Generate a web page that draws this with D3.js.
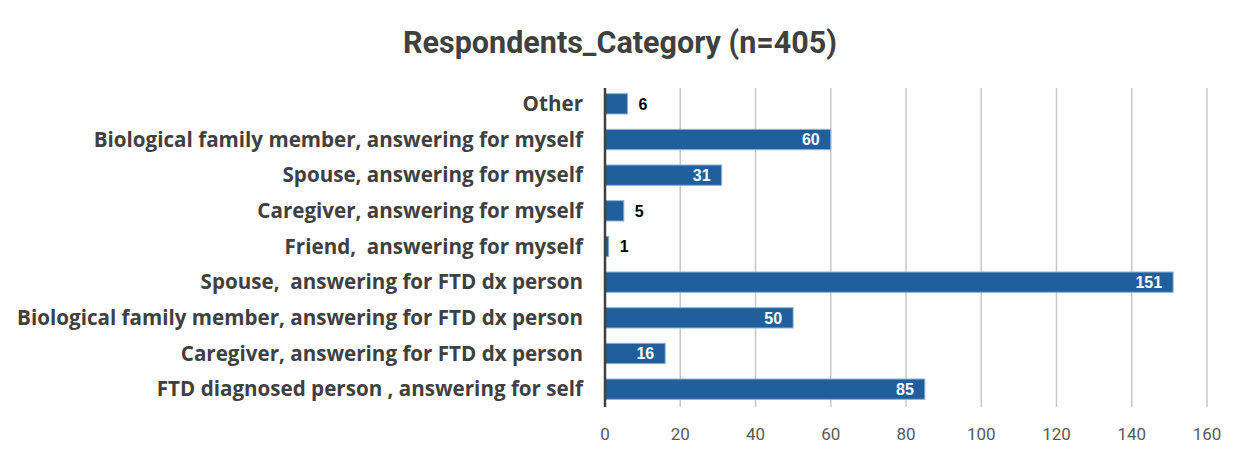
<!DOCTYPE html>
<html>
<head>
<meta charset="utf-8">
<script src="https://cdn.jsdelivr.net/npm/d3@7"></script>
<style>
  body { margin: 0; background: #fff; }
</style>
</head>
<body>
<div id="chart"></div>
<script>
const FRAME_WIDTH = 1243;
const FRAME_HEIGHT = 455;
const MARGINS = {left: 605, right: 36, top: 86, bottom: 48};

// categories top to bottom, as shown
const categories = [
    "Other",
    "Biological family member, answering for myself",
    "Spouse, answering for myself",
    "Caregiver, answering for myself",
    "Friend,  answering for myself",
    "Spouse,  answering for FTD dx person",
    "Biological family member, answering for FTD dx person",
    "Caregiver, answering for FTD dx person",
    "FTD diagnosed person , answering for self"
];
const counts = [6, 60, 31, 5, 1, 151, 50, 16, 85];
const ticks = [0, 20, 40, 60, 80, 100, 120, 140, 160];
const title = "Respondents_Category (n=405)";

const svg = d3.select("#chart")
    .append("svg")
    .attr("width", FRAME_WIDTH)
    .attr("height", FRAME_HEIGHT);

const x = d3.scaleLinear()
    .domain([0, 160])
    .range([MARGINS.left, FRAME_WIDTH - MARGINS.right]);

const y = d3.scaleBand()
    .domain(categories)
    .range([MARGINS.top, FRAME_HEIGHT - MARGINS.bottom])
    .paddingInner(0.43)
    .paddingOuter(0.215);

// title
svg.append("text")
    .attr("x", 620)
    .attr("y", 53)
    .attr("text-anchor", "middle")
    .style("font-family", "'Liberation Sans Narrow', 'Roboto', sans-serif")
    .style("font-weight", "bold")
    .style("font-size", "30.5px")
    .style("fill", "#404040")
    .text(title);

// gridlines
svg.append("g")
    .selectAll("line")
    .data(ticks.slice(1))
    .enter()
    .append("line")
    .attr("x1", d => x(d))
    .attr("x2", d => x(d))
    .attr("y1", MARGINS.top + 2)
    .attr("y2", FRAME_HEIGHT - MARGINS.bottom)
    .style("stroke", "#c8c8c8")
    .style("stroke-width", 1.5);

// tick labels
svg.append("g")
    .selectAll("text")
    .data(ticks)
    .enter()
    .append("text")
    .attr("x", d => x(d))
    .attr("y", 440)
    .attr("text-anchor", "middle")
    .style("font-family", "'Liberation Sans Narrow', 'Roboto', sans-serif")
    .style("font-size", "17px")
    .style("fill", "#595959")
    .text(d => d);

// bars
svg.append("g")
    .selectAll("rect")
    .data(counts)
    .enter()
    .append("rect")
    .attr("x", x(0))
    .attr("y", (d, i) => y(categories[i]))
    .attr("width", d => x(d) - x(0))
    .attr("height", y.bandwidth())
    .style("fill", "#205f9b")
    .style("stroke", "#8fb2d4")
    .style("stroke-width", 1);

// axis line
svg.append("line")
    .attr("x1", x(0))
    .attr("x2", x(0))
    .attr("y1", MARGINS.top + 2)
    .attr("y2", FRAME_HEIGHT - MARGINS.bottom)
    .style("stroke", "#404040")
    .style("stroke-width", 2.5);

// category labels
svg.append("g")
    .selectAll("text")
    .data(categories)
    .enter()
    .append("text")
    .attr("x", 583)
    .attr("y", d => y(d) + y.bandwidth() / 2)
    .attr("dy", "0.35em")
    .attr("text-anchor", "end")
    .style("white-space", "pre")
    .style("font-family", "'Open Sans', 'Noto Sans', sans-serif")
    .style("font-weight", "bold")
    .style("font-size", "20.6px")
    .style("fill", "#404040")
    .text(d => d);

// value labels: inside bar if long enough, else outside
svg.append("g")
    .selectAll("text")
    .data(counts)
    .enter()
    .append("text")
    .attr("x", d => d >= 10 ? x(d) - 11 : x(d) + 11)
    .attr("y", (d, i) => y(categories[i]) + y.bandwidth() / 2)
    .attr("dy", "0.36em")
    .attr("text-anchor", d => d >= 10 ? "end" : "start")
    .style("font-family", "'Liberation Sans', 'Arial', sans-serif")
    .style("font-weight", "bold")
    .style("font-size", "16px")
    .style("fill", d => d >= 10 ? "#ffffff" : "#000000")
    .text(d => d);
</script>
</body>
</html>
